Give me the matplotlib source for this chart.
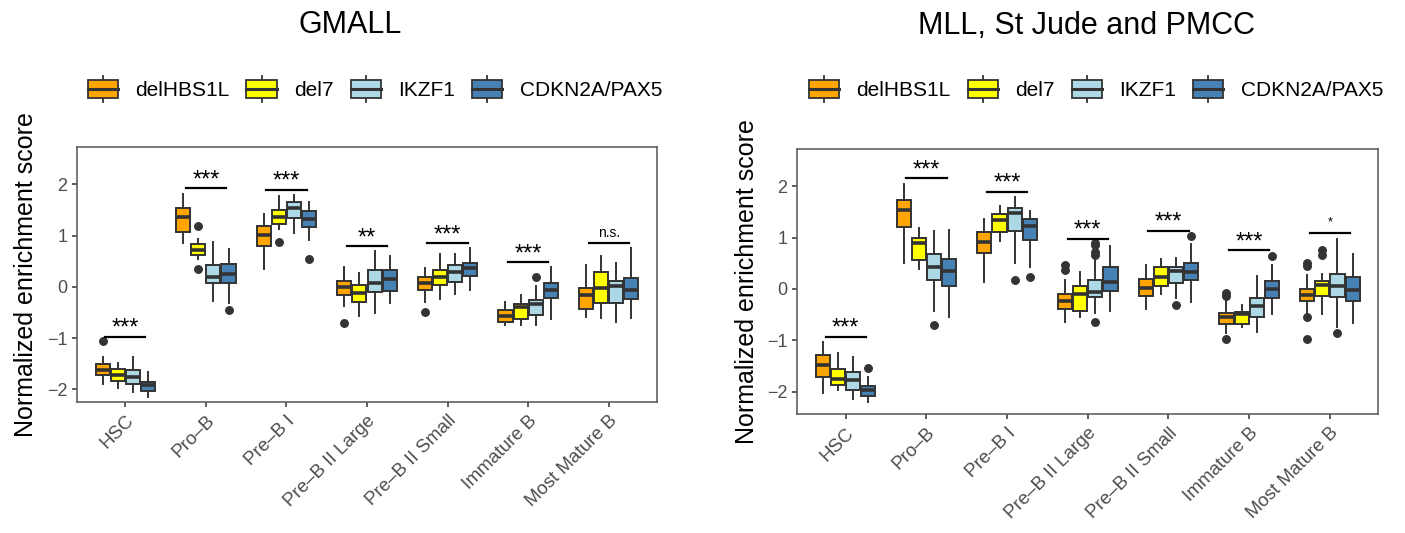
import matplotlib.pyplot as plt
from matplotlib.legend_handler import HandlerBase
from matplotlib.patches import Rectangle
from matplotlib.lines import Line2D

plt.rcParams["font.family"] = ["Liberation Sans", "DejaVu Sans"]

# ── Data ──────────────────────────────────────────────────────────────────────
CELLS = ["HSC", "Pro–B", "Pre–B I", "Pre–B II Large", "Pre–B II Small",
         "Immature B", "Most Mature B"]
GROUPS = ["delHBS1L", "del7", "IKZF1", "CDKN2A/PAX5"]

# GMALL: one row per cell type, one value per group
gm_lo = [[-1.89, -1.98, -2.05, -2.15], [0.85, 0.54, -0.27, -0.32], [0.34, 1.12, 1.05, 0.92],
         [-0.37, -0.56, -0.51, -0.32], [-0.29, -0.24, -0.14, -0.07], [-0.74, -0.75, -0.75, -0.62],
         [-0.58, -0.61, -0.68, -0.61]]
gm_q1 = [[-1.72, -1.83, -1.90, -2.03], [1.07, 0.62, 0.07, 0.08], [0.80, 1.23, 1.34, 1.16],
         [-0.16, -0.30, -0.11, -0.09], [-0.07, 0.03, 0.10, 0.22], [-0.68, -0.62, -0.55, -0.22],
         [-0.43, -0.32, -0.31, -0.24]]
gm_med = [[-1.62, -1.72, -1.76, -1.91], [1.37, 0.72, 0.20, 0.25], [1.01, 1.36, 1.53, 1.33],
          [0.00, -0.12, 0.07, 0.15], [0.07, 0.20, 0.28, 0.36], [-0.56, -0.40, -0.33, -0.06],
          [-0.16, -0.03, 0.01, -0.06]]
gm_q3 = [[-1.51, -1.60, -1.63, -1.86], [1.54, 0.84, 0.43, 0.45], [1.18, 1.49, 1.66, 1.47],
         [0.12, 0.04, 0.33, 0.32], [0.20, 0.33, 0.42, 0.46], [-0.46, -0.34, -0.25, 0.08],
         [-0.03, 0.29, 0.12, 0.18]]
gm_hi = [[-1.37, -1.49, -1.36, -1.67], [1.81, 0.94, 0.88, 0.73], [1.42, 1.77, 1.79, 1.66],
         [0.38, 0.27, 0.69, 0.61], [0.36, 0.64, 0.64, 0.75], [-0.30, -0.16, 0.01, 0.38],
         [0.43, 0.60, 0.46, 0.75]]
gm_out = [[[-1.06], [], [], []], [[], [1.18, 0.34], [], [-0.45]], [[], [0.87], [], [0.55]],
          [[-0.71], [], [], []], [[-0.50], [], [], []], [[], [], [0.19], []],
          [[], [], [], []]]
gm_sig = ["***", "***", "***", "**", "***", "***", "n.s."]
gm_sig_y = [-0.97, 1.92, 1.89, 0.79, 0.85, 0.48, 0.86]

# MLL, St Jude and PMCC
ml_lo = [[-2.03, -1.96, -2.13, -2.19], [0.50, 0.39, -0.42, -0.54], [0.14, 0.93, 0.50, 0.43],
         [-0.65, -0.54, -0.47, -0.42], [-0.38, -0.10, -0.18, -0.26], [-0.86, -0.73, -0.83, -0.49],
         [-0.46, -0.49, -0.73, -0.67]]
ml_q1 = [[-1.71, -1.87, -1.96, -2.08], [1.21, 0.56, 0.18, 0.06], [0.69, 1.10, 1.13, 0.95],
         [-0.39, -0.42, -0.15, -0.04], [-0.14, 0.06, 0.12, 0.18], [-0.68, -0.68, -0.54, -0.18],
         [-0.23, -0.14, -0.16, -0.23]]
ml_med = [[-1.48, -1.75, -1.76, -1.97], [1.54, 0.90, 0.43, 0.35], [0.92, 1.34, 1.47, 1.23],
          [-0.23, -0.10, -0.05, 0.14], [0.01, 0.24, 0.34, 0.32], [-0.54, -0.49, -0.34, 0.00],
          [-0.12, 0.08, 0.06, -0.02]]
ml_q3 = [[-1.28, -1.56, -1.62, -1.89], [1.72, 1.00, 0.67, 0.58], [1.10, 1.46, 1.58, 1.36],
         [-0.10, 0.05, 0.18, 0.42], [0.19, 0.42, 0.43, 0.51], [-0.47, -0.44, -0.18, 0.16],
         [-0.01, 0.16, 0.30, 0.24]]
ml_hi = [[-1.04, -1.25, -1.32, -1.72], [2.04, 1.18, 1.13, 1.15], [1.36, 1.61, 1.78, 1.52],
         [0.18, 0.32, 0.60, 0.84], [0.47, 0.58, 0.60, 0.87], [-0.23, -0.32, 0.25, 0.47],
         [0.27, 0.30, 0.97, 0.67]]
ml_out = [[[], [], [], [-1.54]], [[], [], [-0.70], []], [[], [], [0.17], [0.23]],
          [[0.47, 0.37], [], [0.66, 0.71, 0.86, 0.90, -0.65], []], [[], [], [-0.32], [1.03]],
          [[-0.08, -0.14, -0.98], [], [], [0.64]],
          [[0.50, 0.45, -0.54, -0.97], [0.76, 0.66], [-0.86], []]]
ml_sig = ["***", "***", "***", "***", "***", "***", "*"]
ml_sig_y = [-0.93, 2.15, 1.89, 0.97, 1.13, 0.75, 1.08]

# ── Style ─────────────────────────────────────────────────────────────────────
FILLS = ["#FFA500", "#FFFF00", "#ADD8E6", "#4682B4"]
EDGE = "#333333"
TICK = "#4D4D4D"
SLOT = 0.1875
BOX_W = 0.175
# label -> (font size, baseline offset above the bar in points)
SIG_STYLE = {"***": (17, 1.5), "**": (17, 1.5), "n.s.": (10, 4), "*": (9, 6)}


class BoxKey(HandlerBase):
    def create_artists(self, legend, orig_handle, xdescent, ydescent,
                       width, height, fontsize, trans):
        x0, y0 = -xdescent, -ydescent
        cx, cy = x0 + width / 2, y0 + height / 2
        bh = height * 0.7
        whisk = Line2D([cx, cx], [y0, y0 + height], color=EDGE, lw=1.3, transform=trans)
        box = Rectangle((x0, cy - bh / 2), width, bh, facecolor=orig_handle.get_facecolor(),
                        edgecolor=EDGE, lw=1.3, transform=trans)
        mid = Line2D([x0, x0 + width], [cy, cy], color=EDGE, lw=2.2, transform=trans)
        return [whisk, box, mid]


def draw_panel(ax, lo, q1, med, q3, hi, out, sig, sig_y, ylim):
    for j, color in enumerate(FILLS):
        stats, pos = [], []
        for i in range(len(CELLS)):
            stats.append(dict(whislo=lo[i][j], q1=q1[i][j], med=med[i][j],
                              q3=q3[i][j], whishi=hi[i][j], fliers=out[i][j]))
            pos.append(i + 1 + (j - 1.5) * SLOT)
        ax.bxp(stats, positions=pos, widths=BOX_W, patch_artist=True, showcaps=False,
               boxprops=dict(facecolor=color, edgecolor=EDGE, linewidth=1.4),
               medianprops=dict(color=EDGE, linewidth=2.6, solid_capstyle="butt"),
               whiskerprops=dict(color=EDGE, linewidth=1.4),
               flierprops=dict(marker="o", markerfacecolor=EDGE, markeredgecolor=EDGE,
                               markersize=5.4))

    for i, (lab, y) in enumerate(zip(sig, sig_y)):
        ax.plot([i + 1 - 0.25, i + 1 + 0.25], [y, y], color="black", lw=1.6)
        size, dy = SIG_STYLE[lab]
        ax.annotate(lab, xy=(i + 1, y), xytext=(0, dy), textcoords="offset points",
                    ha="center", va="baseline", fontsize=size, color="black")

    ax.set_xlim(0.4, 7.6)
    ax.set_ylim(*ylim)
    ax.set_yticks([-2, -1, 0, 1, 2])
    ax.set_yticklabels(["−2", "−1", "0", "1", "2"])
    ax.set_xticks(range(1, len(CELLS) + 1))
    ax.set_xticklabels(CELLS, rotation=45, ha="right", rotation_mode="anchor")
    ax.tick_params(colors=EDGE, labelcolor=TICK, labelsize=13, length=3.5, width=1.1)
    ax.tick_params(axis="x", labelsize=13.5, pad=4)
    ax.set_ylabel("Normalized enrichment score", fontsize=18, labelpad=6)
    for s in ax.spines.values():
        s.set_color("#555555")
        s.set_linewidth(1.1)


fig = plt.figure(figsize=(14.05, 5.33), dpi=100)
W, H = 1405, 533
ax1 = fig.add_axes([77 / W, 1 - 401.7 / H, 580 / W, 254.4 / H])
ax2 = fig.add_axes([797.3 / W, 1 - 414 / H, 581 / W, 265 / H])

draw_panel(ax1, gm_lo, gm_q1, gm_med, gm_q3, gm_hi, gm_out, gm_sig, gm_sig_y, (-2.24, 2.72))
draw_panel(ax2, ml_lo, ml_q1, ml_med, ml_q3, ml_hi, ml_out, ml_sig, ml_sig_y, (-2.43, 2.72))

fig.text(350 / W, 1 - 25 / H, "GMALL", fontsize=22, ha="center", va="center")
fig.text(1086 / W, 1 - 26 / H, "MLL, St Jude and PMCC", fontsize=22, ha="center", va="center")

handles = [Rectangle((0, 0), 1, 1, facecolor=c) for c in FILLS]
for cx in (375, 1096):
    fig.legend(handles, GROUPS, handler_map={Rectangle: BoxKey()}, ncol=4, loc="center",
               bbox_to_anchor=(cx / W, 1 - 89 / H), frameon=False, fontsize=15,
               handlelength=1.45, handleheight=1.5, handletextpad=0.85, columnspacing=0.8)

fig.savefig("out.png", dpi=100, facecolor="white")
